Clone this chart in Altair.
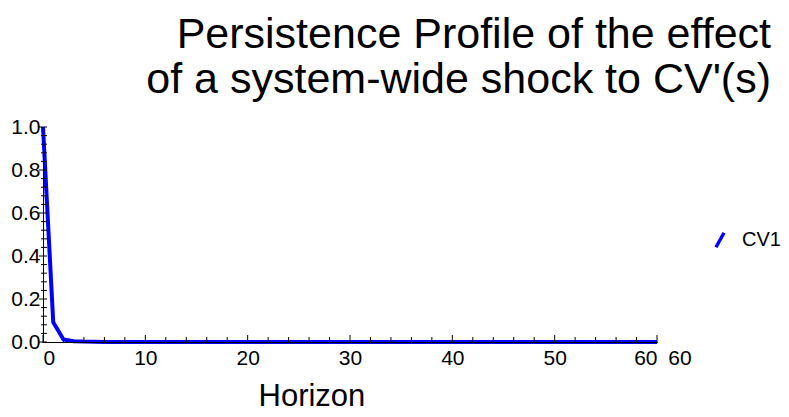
import altair as alt
import pandas as pd

horizon = list(range(0, 61))
cv1 = [1.0, 0.092, 0.012, 0.004, 0.0018, 0.0009, 0.0005, 0.0003, 0.0002, 0.0001,
       0.0001, 0.0001, 0.0, 0.0, 0.0, 0.0, 0.0, 0.0, 0.0, 0.0,
       0.0, 0.0, 0.0, 0.0, 0.0, 0.0, 0.0, 0.0, 0.0, 0.0,
       0.0, 0.0, 0.0, 0.0, 0.0, 0.0, 0.0, 0.0, 0.0, 0.0,
       0.0, 0.0, 0.0, 0.0, 0.0, 0.0, 0.0, 0.0, 0.0, 0.0,
       0.0, 0.0, 0.0, 0.0, 0.0, 0.0, 0.0, 0.0, 0.0, 0.0, 0.0]
series_name = ["CV1"] * len(horizon)

x_major = [0, 10, 20, 30, 40, 50, 60]
x_minor = [2, 4, 6, 8, 12, 14, 16, 18, 22, 24, 26, 28, 32, 34, 36, 38,
           42, 44, 46, 48, 52, 54, 56, 58]
y_major = [0.0, 0.2, 0.4, 0.6, 0.8, 1.0]
y_minor = [0.04, 0.08, 0.12, 0.16, 0.24, 0.28, 0.32, 0.36, 0.44, 0.48, 0.52, 0.56,
           0.64, 0.68, 0.72, 0.76, 0.84, 0.88, 0.92, 0.96]
extra_label = ["60"]

title_lines = ["Persistence Profile of the effect", "of a system-wide shock to CV'(s)"]

W, H = 614, 215
FONT = "Liberation Sans"

df = pd.DataFrame({"Horizon": horizon, "value": cv1, "series": series_name})

xscale = alt.Scale(domain=[0, 60], nice=False)
yscale = alt.Scale(domain=[0, 1], nice=False)

line = alt.Chart(df).mark_line(strokeWidth=4, clip=False).encode(
    x=alt.X("Horizon:Q", scale=xscale,
            axis=alt.Axis(values=x_major, ticks=False, grid=False, labelFontSize=21,
                          labelFont=FONT, labelColor="black", labelPadding=5,
                          labelOverlap=False,
                          domainColor="black", domainWidth=1, zindex=1,
                          title="Horizon", titleFont=FONT, titleFontSize=31,
                          titleFontWeight="normal", titleColor="black",
                          titleX=215, titleY=63, titleAlign="left",
                          titleBaseline="alphabetic")),
    y=alt.Y("value:Q", scale=yscale,
            axis=alt.Axis(values=y_major, format=".1f", ticks=False, grid=False,
                          labelFontSize=21, labelFont=FONT, labelColor="black",
                          labelPadding=3, labelOverlap=False,
                          domainColor="black", domainWidth=1,
                          zindex=1, title=None)),
    color=alt.Color("series:N",
                    scale=alt.Scale(domain=["CV1"], range=["#0000ff"]),
                    legend=alt.Legend(title=None, orient="none", legendX=667,
                                      legendY=103, symbolType="M-0.5,0.9L0.5,-0.9",
                                      symbolStrokeWidth=3.5, symbolSize=260,
                                      labelFont=FONT, labelFontSize=20,
                                      labelColor="black", labelOffset=12)),
)

xmaj = alt.Chart(pd.DataFrame({"t": x_major})).mark_rule(color="black", strokeWidth=1).encode(
    x=alt.X("t:Q", scale=xscale), y=alt.value(H + 1), y2=alt.value(H - 7))
xmin = alt.Chart(pd.DataFrame({"t": x_minor})).mark_rule(color="black", strokeWidth=1).encode(
    x=alt.X("t:Q", scale=xscale), y=alt.value(H + 1), y2=alt.value(H - 5))
ymaj = alt.Chart(pd.DataFrame({"t": y_major})).mark_rule(color="black", strokeWidth=1).encode(
    y=alt.Y("t:Q", scale=yscale), x=alt.value(-4), x2=alt.value(4))
ymin = alt.Chart(pd.DataFrame({"t": y_minor})).mark_rule(color="black", strokeWidth=1).encode(
    y=alt.Y("t:Q", scale=yscale), x=alt.value(-2), x2=alt.value(4))

extra = alt.Chart(pd.DataFrame({"lab": extra_label})).mark_text(
    font=FONT, fontSize=21, align="center", baseline="top", color="black"
).encode(x=alt.value(W + 23), y=alt.value(H + 6), text="lab:N")

chart = alt.layer(line, xmin, xmaj, ymin, ymaj, extra).properties(
    width=W, height=H,
    title=alt.Title(text=title_lines, fontSize=43, font=FONT, fontWeight="normal",
                    color="black", anchor="end", align="right", frame="group",
                    dx=114, offset=14, lineHeight=45),
    autosize=alt.AutoSizeParams(type="none"),
    padding={"left": 35, "top": 119, "right": 124, "bottom": 67},
).configure_view(stroke=None)

chart.save("out.html", embed_options={"renderer": "svg", "actions": False})
